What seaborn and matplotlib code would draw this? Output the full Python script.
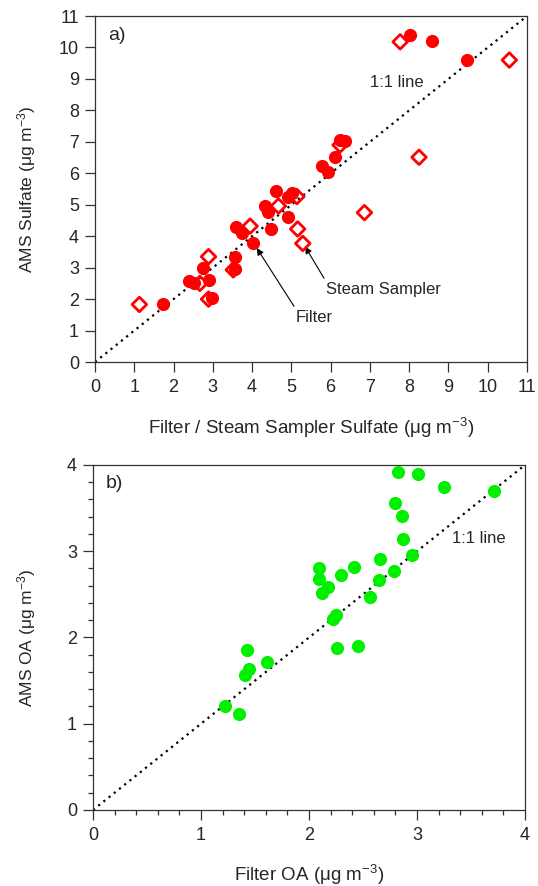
import numpy as np
import pandas as pd
import seaborn as sns
import matplotlib.pyplot as plt
from matplotlib.ticker import MultipleLocator

# panel a) sulfate: AMS vs filter (filled) and steam sampler (open)
filter_so4 = [8.02, 8.57, 9.46, 6.24, 6.37, 6.11, 5.77, 5.92, 4.61, 4.92, 5.01, 4.33, 4.40,
              4.91, 4.48, 3.59, 3.73, 4.03, 3.57, 3.57, 2.74, 2.89, 2.40, 2.52, 2.97, 1.74]
filter_ams = [10.40, 10.21, 9.60, 7.06, 7.03, 6.53, 6.23, 6.05, 5.45, 5.26, 5.36, 4.96, 4.78,
              4.60, 4.23, 4.30, 4.09, 3.77, 3.35, 2.97, 2.98, 2.61, 2.57, 2.52, 2.02, 1.83]
steam_so4 = [7.77, 10.55, 8.25, 6.24, 5.14, 4.67, 6.86, 5.16, 5.29, 3.95, 2.89, 3.52, 2.67, 2.89, 1.13]
steam_ams = [10.18, 9.60, 6.51, 6.90, 5.26, 4.96, 4.75, 4.23, 3.77, 4.32, 3.35, 2.93, 2.50, 2.00, 1.83]

# panel b) organic aerosol: AMS vs filter
oa_filter = [2.82, 3.01, 3.25, 3.71, 2.80, 2.86, 2.87, 2.95, 2.66, 2.79, 2.65, 2.56, 2.42, 2.09,
             2.09, 2.30, 2.18, 2.12, 2.25, 2.22, 2.26, 2.45, 1.43, 1.61, 1.44, 1.41, 1.22, 1.35]
oa_ams = [3.92, 3.89, 3.75, 3.70, 3.56, 3.41, 3.14, 2.96, 2.91, 2.77, 2.67, 2.47, 2.82, 2.81,
          2.68, 2.72, 2.59, 2.51, 2.26, 2.22, 1.88, 1.90, 1.86, 1.72, 1.64, 1.57, 1.21, 1.11]

sns.set_style("ticks")
plt.rcParams['font.family'] = ['Liberation Sans', 'DejaVu Sans']
plt.rcParams['mathtext.default'] = 'regular'
plt.rcParams['font.size'] = 12

RED = '#ff0000'
GREEN = '#00f000'


def style_axes(ax, lim):
    ax.set_xlim(0, lim)
    ax.set_ylim(0, lim)
    for sp in ax.spines.values():
        sp.set_visible(True)
        sp.set_color('#333333')
        sp.set_linewidth(0.9)
    ax.tick_params(which='major', direction='out', length=7.5, width=0.9,
                   color='#333333', labelsize=13)
    ax.tick_params(axis='x', which='major', pad=5)
    ax.tick_params(axis='y', which='major', pad=4)
    ax.tick_params(which='minor', direction='out', length=3.8, width=0.9, color='#333333')
    ax.plot([0, lim], [0, lim], color='black', lw=1.6, ls=(0, (1, 2)), zorder=1)


fig = plt.figure(figsize=(5.38, 8.86), dpi=100)
ax1 = fig.add_axes([0.1766, 0.5914, 0.8030, 0.3905])
ax2 = fig.add_axes([0.1729, 0.0858, 0.8030, 0.3894])

# ---- a) ----
style_axes(ax1, 11)
sns.scatterplot(x=filter_so4, y=filter_ams, ax=ax1, marker='o', s=90,
                color=RED, edgecolor=RED, linewidth=0, zorder=3)
sns.scatterplot(x=steam_so4, y=steam_ams, ax=ax1, marker='D', s=55,
                color=RED, facecolor='none', edgecolor=RED, linewidth=2, zorder=4)
ax1.set_xticks(range(0, 12))
ax1.set_yticks(range(0, 12))
ax1.set_xlabel('Filter / Steam Sampler Sulfate (μg m$^{-3}$)', fontsize=13.5)
ax1.set_ylabel('AMS Sulfate (μg m$^{-3}$)', fontsize=12.5)
ax1.xaxis.set_label_coords(0.5, -0.155)
ax1.yaxis.set_label_coords(-0.132, 0.5)
ax1.text(0.03, 0.945, 'a)', transform=ax1.transAxes, fontsize=14, va='center', ha='left')
ax1.text(7.69, 8.9, '1:1 line', fontsize=12, ha='center', va='center')
ax1.annotate('Filter', xy=(4.12, 3.62), xytext=(5.12, 1.43), fontsize=12,
             ha='left', va='center',
             arrowprops=dict(arrowstyle='-|>', color='black', lw=0.8, relpos=(0, 1),
                             shrinkA=0, shrinkB=0, mutation_scale=10))
ax1.annotate('Steam Sampler', xy=(5.35, 3.67), xytext=(5.88, 2.32), fontsize=12,
             ha='left', va='center',
             arrowprops=dict(arrowstyle='-|>', color='black', lw=0.8, relpos=(0, 1),
                             shrinkA=0, shrinkB=0, mutation_scale=10))

# ---- b) ----
style_axes(ax2, 4)
sns.scatterplot(x=oa_filter, y=oa_ams, ax=ax2, marker='o', s=90,
                color=GREEN, edgecolor=GREEN, linewidth=0, zorder=3)
ax2.xaxis.set_major_locator(MultipleLocator(1))
ax2.yaxis.set_major_locator(MultipleLocator(1))
ax2.xaxis.set_minor_locator(MultipleLocator(0.2))
ax2.yaxis.set_minor_locator(MultipleLocator(0.2))
ax2.set_xlabel('Filter OA (μg m$^{-3}$)', fontsize=13.5)
ax2.set_ylabel('AMS OA (μg m$^{-3}$)', fontsize=12.5)
ax2.xaxis.set_label_coords(0.5, -0.152)
ax2.yaxis.set_label_coords(-0.127, 0.5)
ax2.text(0.03, 0.945, 'b)', transform=ax2.transAxes, fontsize=14, va='center', ha='left')
ax2.text(3.57, 3.15, '1:1 line', fontsize=12, ha='center', va='center')

fig.savefig('out.png', dpi=100)
